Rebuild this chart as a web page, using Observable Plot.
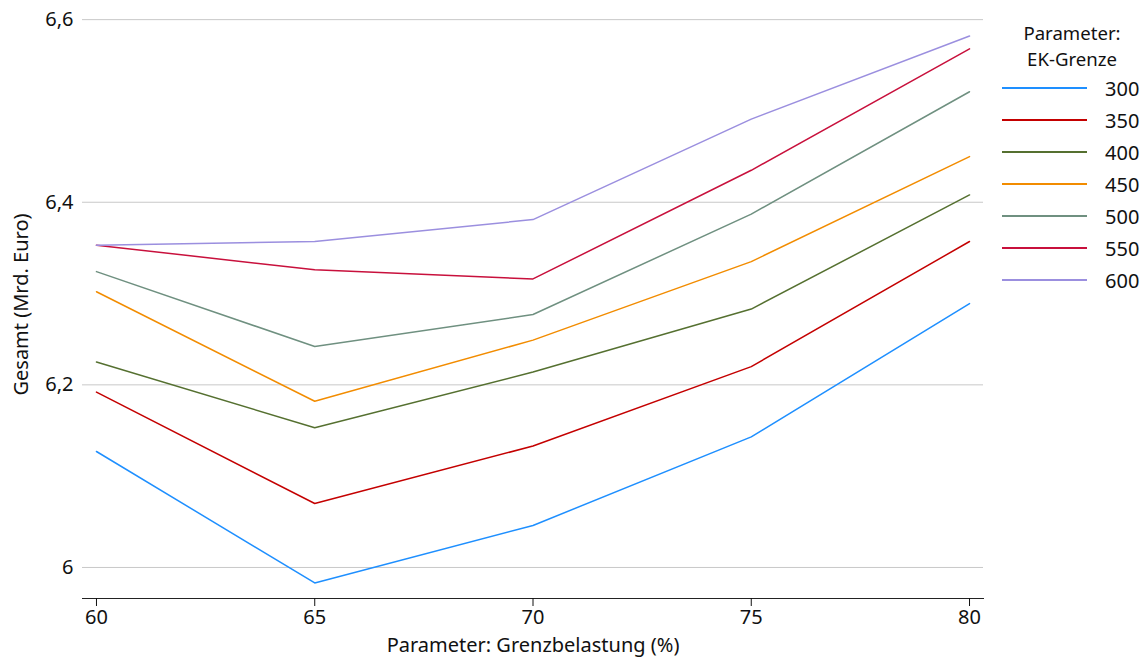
<!DOCTYPE html>
<html><head><meta charset="utf-8">
<script src="https://cdn.jsdelivr.net/npm/d3@7"></script>
<script src="https://cdn.jsdelivr.net/npm/@observablehq/plot@0.6"></script>
<style>
body{margin:0;background:#fff;font-family:"Noto Sans",sans-serif;}
#wrap{position:relative;width:1146px;height:659px;}
#legend{position:absolute;left:1002px;top:20px;width:144px;font-size:20px;color:#111;}
#legend .t{position:absolute;left:0;top:0;width:140px;text-align:center;line-height:25.5px;font-size:18.6px;}
#legend .rows{position:absolute;left:0;top:52px;}
#legend .row{display:flex;align-items:center;height:32px;}
#legend .sw{width:85px;height:2px;margin-right:18px;}
</style></head><body>
<div id="wrap"><div id="chart"></div><div id="legend"></div></div>
<script>
const grenz = [60, 65, 70, 75, 80];
const ekGrenze = ["300","350","400","450","500","550","600"];
const v300 = [6.127, 5.983, 6.046, 6.143, 6.289];
const v350 = [6.192, 6.070, 6.133, 6.220, 6.357];
const v400 = [6.225, 6.153, 6.214, 6.283, 6.408];
const v450 = [6.302, 6.182, 6.249, 6.335, 6.450];
const v500 = [6.324, 6.242, 6.277, 6.387, 6.521];
const v550 = [6.353, 6.326, 6.316, 6.435, 6.568];
const v600 = [6.353, 6.357, 6.381, 6.491, 6.582];
const colors = ["#1e8fff","#c40000","#557030","#f28c00","#6f9080","#c8103c","#9b8fdf"];
const yTicks = [6, 6.2, 6.4, 6.6];

const series = [v300, v350, v400, v450, v500, v550, v600];
const data = [];
series.forEach((vals, i) => vals.forEach((v, j) => data.push({x: grenz[j], y: v, k: ekGrenze[i]})));

const fmt = d => String(d).replace(".", ",");

const chart = Plot.plot({
  width: 1146, height: 659,
  marginLeft: 82, marginRight: 163, marginTop: 10, marginBottom: 61,
  style: {fontFamily: "'Noto Sans', sans-serif", fontSize: "20px", color: "#111", background: "#fff"},
  x: {domain: [59.68, 80.32]},
  y: {domain: [5.966, 6.61]},
  color: {domain: ekGrenze, range: colors},
  marks: [
    Plot.gridY(yTicks, {stroke: "#c8c8c8", strokeOpacity: 1, strokeWidth: 1}),
    Plot.frame({anchor: "bottom", stroke: "#222"}),
    Plot.axisX(grenz, {tickSize: 8, tickPadding: 3, tickFormat: d => d, label: "Parameter: Grenzbelastung (%)", labelAnchor: "center", labelArrow: false, labelOffset: 53, fontSize: 20}),
    Plot.axisY(yTicks, {tickSize: 0, tickPadding: 9, tickFormat: fmt, label: "Gesamt (Mrd. Euro)", labelAnchor: "center", labelOffset: 69, labelArrow: false, fontSize: 20}),
    Plot.lineY(data, {x: "x", y: "y", stroke: "k", strokeWidth: 1.5})
  ]
});
document.getElementById("chart").appendChild(chart);

const leg = document.getElementById("legend");
leg.innerHTML = '<div class="t">Parameter:<br>EK-Grenze</div><div class="rows">' +
  ekGrenze.map((k, i) => `<div class="row"><div class="sw" style="background:${colors[i]}"></div><span>${k}</span></div>`).join("") + '</div>';
</script>
</body></html>
